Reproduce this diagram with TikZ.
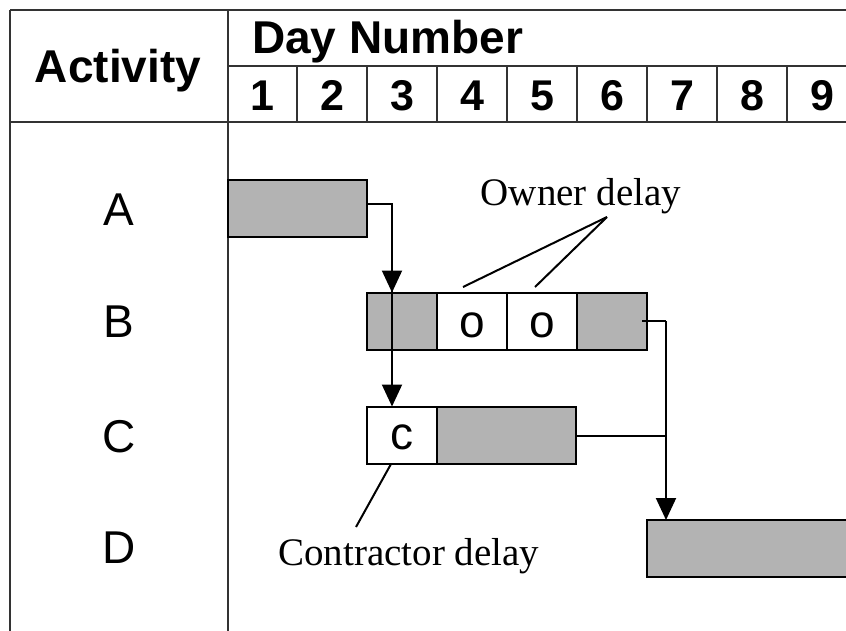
\documentclass[tikz,border=0pt]{standalone}
\usepackage{fontspec}
\setmainfont{Liberation Sans}
\newfontfamily\noteface{Liberation Serif}
\usetikzlibrary{arrows.meta}
\definecolor{barfill}{HTML}{B3B3B3}
\definecolor{rule}{HTML}{333333}

\begin{document}
\begin{tikzpicture}[x=1pt,y=-1pt,
  grid/.style={line width=2pt, draw=rule},
  bar/.style={draw=black, line width=2pt, fill=barfill, minimum height=57pt,
              inner sep=0pt, outer sep=0pt},
  delaybox/.style={bar, fill=white, minimum width=70pt},
  boxmark/.style={font=\fontsize{46}{46}\selectfont, inner sep=0pt, anchor=base},
  link/.style={line width=2pt},
  arr/.style={link, -{Triangle[length=22pt,width=20pt]}},
  head/.style={font=\bfseries\fontsize{46}{46}\selectfont, inner sep=0pt},
  daynum/.style={font=\bfseries\fontsize{43}{43}\selectfont, inner sep=0pt, anchor=base},
  rowlabel/.style={font=\fontsize{46}{46}\selectfont, inner sep=0pt, anchor=base},
  note/.style={font=\noteface\fontsize{39}{39}\selectfont, inner sep=0pt}]

\fill[white] (0,0) rectangle (846,630);
\useasboundingbox (0,0) rectangle (846,630);

% table frame
\draw[grid] (10,10) -- (860,10);
\draw[grid] (10,10) -- (10,640);
\draw[grid] (228,10) -- (228,640);
\draw[grid] (10,122) -- (860,122);
\draw[grid] (228,66) -- (860,66);
\foreach \x in {297,367,437,507,577,647,717,787}
  \draw[grid] (\x,66) -- (\x,122);

% header texts
\node[head, anchor=base] (act) at (118,82) {Activity};
\node[head, anchor=base west] (day) at (252,53) {Day Number};
\foreach \d [count=\i] in {1,...,9}
  \node[daynum] (d\i) at ({262+70*(\i-1)},110) {\d};

% activity names
\node[rowlabel] (la) at (119,225) {A};
\node[rowlabel] (lb) at (119,337) {B};
\node[rowlabel] (lc) at (119,452) {C};
\node[rowlabel] (ld) at (119,563) {D};

% bars
\node[bar, minimum width=139pt] (A) at (297.5,208) {};
\node[bar, minimum width=70pt] (B1) at (402,321) {};
\node[delaybox] (B2) at (472,321) {};
\node[delaybox] (B3) at (542,321) {};
\node[bar, minimum width=70pt] (B4) at (612,321) {};
\node[delaybox] (C1) at (402,435) {};
\node[bar, minimum width=139pt] (C2) at (506.5,435) {};
\node[bar, minimum width=260pt] (D) at (777,548.5) {};

% delay marks inside the boxes
\node[boxmark] (o1) at (B2 |- 0,337) {o};
\node[boxmark] (o2) at (B3 |- 0,337) {o};
\node[boxmark] (c1) at (C1 |- 0,449) {c};

% dependency links
\coordinate (ta) at (392,204);
\coordinate (tb) at (392,292.5);
\coordinate (tc) at (392,406.5);
\coordinate (sb) at (642,321);
\coordinate (jb) at (666,321);
\coordinate (jc) at (666,436);
\coordinate (td) at (666,520);
\draw[link] (ta -| A.east) -- (ta) -- (tb);
\draw[arr] (ta) -- (tb);
\draw[arr] (tb) -- (tc);
\draw[link] (sb) -- (jb);
\draw[arr] (jb) -- (td);
\draw[link] (jc -| C2.east) -- (jc);

% delay annotations
\node[note, anchor=base] (own) at (581,205) {Owner delay};
\coordinate (ow) at (607,217);
\draw[link] (ow) -- (463,287);
\draw[link] (ow) -- (535,287);
\node[note, anchor=base west] (con) at (278,565) {Contractor delay};
\draw[link] (391,464) -- (356,527);
\end{tikzpicture}
\end{document}
